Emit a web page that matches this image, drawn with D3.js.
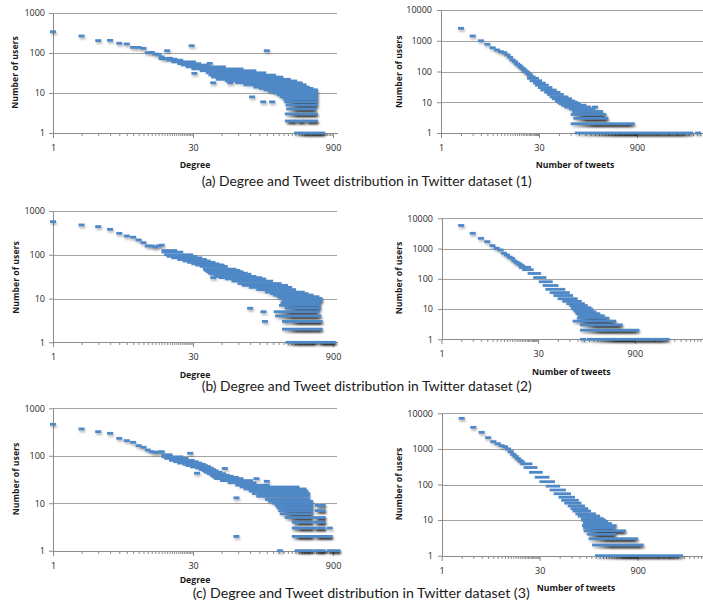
<!DOCTYPE html>
<html>
<head>
<meta charset="utf-8">
<script src="https://cdnjs.cloudflare.com/ajax/libs/d3/7.8.5/d3.min.js"></script>
<style>
body { margin: 0; background: #fff; }
text { font-family: "Open Sans", sans-serif; }
.ttl { font-weight: bold; font-size: 8.7px; fill: #1a1a1a; }
.cap { font-family: Lato, sans-serif; font-size: 13px; fill: #1a1a1a; }
</style>
</head>
<body>
<script>
// tick values
var yTicksDeg = [1, 10, 100, 1000],
    yTicksTwt = [1, 10, 100, 1000, 10000],
    xMajor = [1, 30, 900];

// single markers [x, users] and horizontal runs of markers [users, xFrom, xTo]
// (a) dataset 1
var degPts1 = [[1,340],[2,266],[3,204],[4,207],[5,175],[6,168],[7,138],[8,138],[9,131],[10,102],[11,104],[12,94],[13,93],
  [14,80],[15,72],[16,114],[17,74],[19,70],[29,152],[180,114],[31,31],[49,18],[74,18],[126,8],[165,6],[205,6],[45,55]];
var degRuns1 = [[72,14,17],[66,17,22],[60,19,30],[54,22,34],[50,24,42],[45,27,62],[40,31,95],[36,38,130],[32,44,165],
  [28,47,210],[25,50,250],[22,56,300],[20,70,350],[18,90,400],[16,110,440],[14,140,475],[13,160,520],[12,180,580],[11,200,580],
  [10,225,580],[9,247,580],[8,265,580],[7,285,580],[6,295,580],[5,305,580],[4,310,560],[3,300,580],
  [2,300,340],[2,385,420],[2,470,580],[1,375,690]];
var twtPts1 = [[2,2540],[3,1430],[4,1000],[5,770],[6,590],[7,500],[8,440],[9,410],[10,345],[11,290],[12,236],[13,208],
  [14,175],[15,160],[16,140],[17,125],[18,112],[19,100],[20,92],[21,84],[22,76],[24,66],[210,7],[7500,1]];
var twtRuns1 = [[60,22,27],[50,24,30],[42,27,34],[36,29,38],[30,32,43],[25,35,50],[21,40,57],[18,44,64],[15,48,75],
  [13,52,85],[11,58,95],[10,62,105],[9,66,115],[8,72,140],[7,80,165],[6,95,190],[5,105,250],[4,100,280],[3,110,300],
  [2,100,750],[1,115,5700]];

// (b) dataset 2
var degPts2 = [[1,571],[2,480],[3,440],[4,382],[5,309],[6,268],[7,252],[8,218],[9,189],[10,159],[11,159],[12,150],
  [13,160],[14,166],[51,58],[60,58],[49,30],[120,6],[166,5],[172,3],[280,3]];
var degRuns2 = [[125,15,19],[115,15,22],[100,16,28],[92,17,31],[85,19,35],[78,22,39],[72,25,43],[67,28,48],[62,31,53],
  [58,34,58],[54,38,65],[47,41,80],[44,42,88],[41,44,95],[38,46,105],[36,48,115],[32,53,130],[30,60,150],[28,70,165],
  [25,82,195],[22,95,240],[20,105,280],[18,125,310],[16,150,340],[14,185,420],
  [13,210,460],[12,225,520],[11,247,600],[10,260,650],[9,280,650],[8,270,620],[7,260,620],[6,300,620],[5,229,600],
  [4,237,630],[3,300,650],[2,280,650],[1,305,560],[1,630,900]];
var twtPts2 = [[2,5800],[3,3190],[4,2180],[5,1690],[6,1250],[7,1020],[8,900],[9,700],[10,614],[11,520],[12,476],
  [13,389],[14,350],[15,325],[16,290],[17,266],[146,1]];
var twtRuns2 = [[240,17,21],[200,19,23],[150,23,30],[110,28,36],[80,34,45],[60,39,55],[45,43,70],[35,50,82],[28,57,92],
  [22,66,108],[18,78,125],[15,90,140],[13,100,155],[11,105,175],[10,110,185],[9,115,190],[8,120,210],[7,125,240],
  [6,135,280],[5,130,330],[4,112,420],[3,145,530],[2,145,950],[1,185,2750]];

// (c) dataset 3
var degPts3 = [[1,460],[2,367],[3,322],[4,297],[5,233],[6,208],[7,192],[8,163],[9,151],[10,132],[11,122],[12,118],
  [13,120],[14,122],[28,113],[33,43],[43,59],[65,54],[140,33],[180,29],[86,13],[86,2],[248,1],[830,3],[355,3],[370,4]];
var degRuns3 = [[105,15,17],[95,15,22],[88,16,25],[80,18,29],[75,20,32],[70,22,35],[66,25,38],[62,27,40],[58,30,43],
  [55,34,46],[51,37,49],[48,40,52],[45,42,57],[42,45,62],[39,48,68],[37,50,75],[35,52,85],[33,54,95],[30,62,120],
  [27,75,130],[24,90,180],[22,100,370],[20,110,440],[18,125,460],[16,135,480],
  [14,150,480],[12,185,480],[11,200,516],[10,220,516],[9,235,516],[8,245,516],[7,255,516],[6,265,516],[5,300,516],
  [4,355,516],[3,370,516],[2,355,516],[1,380,516],[9,620,700],[7,620,700],[5,600,700],[4,600,700],[3,580,700],
  [2,580,830],[1,600,700],[1,830,1000]];
var twtPts3 = [[2,7230],[3,4040],[4,2920],[5,2070],[6,1600],[7,1400],[8,1235],[9,1155],[10,995],[11,838],[12,700],
  [13,617],[14,540],[15,480],[16,440]];
var twtRuns3 = [[380,17,21],[300,19,25],[220,23,30],[160,28,38],[120,33,46],[90,41,55],[70,47,67],[55,54,80],[44,64,92],
  [36,70,105],[30,78,115],[25,88,130],[21,97,145],[18,104,160],[15,115,190],[13,125,220],[11,140,250],[10,140,270],
  [9,150,290],[8,150,330],[7,144,390],[6,150,360],[5,153,540],[4,172,380],[3,182,820],[2,205,1000],[1,227,3900]];

var captions = ["(a) Degree and Tweet distribution in Twitter dataset (1)",
                "(b) Degree and Tweet distribution in Twitter dataset (2)",
                "(c) Degree and Tweet distribution in Twitter dataset (3)"];

var xMinor = [];
[1, 30, 900].forEach(function (b) { for (var k = 2; k < 30; k++) xMinor.push(k * b); });

var blue = "#4f88c6", axisCol = "#8c8c8c", gridCol = "#a3a3a3";
var mw = 6, mh = 2.8;

// layout of the six panels
var panels = [
  {pts: degPts1, runs: degRuns1, xMax: 1000,  left: 53,    right: 337.4, gridEnd: 337, yTicks: yTicksDeg, bottom: 133,   top: 13,
   xTitle: "Degree", xtX: 195, xtY: 167.5, ytX: 18, ytY: 72.5, lblPad: 4},
  {pts: twtPts1, runs: twtRuns1, xMax: 27000, left: 441,   right: 735,   gridEnd: 703, yTicks: yTicksTwt, bottom: 133,   top: 10,
   xTitle: "Number of tweets", xtX: 575, xtY: 168, ytX: 401.5, ytY: 71.7, lblPad: 5},
  {pts: degPts2, runs: degRuns2, xMax: 1000,  left: 53,    right: 337.4, gridEnd: 337, yTicks: yTicksDeg, bottom: 342.3, top: 211,
   xTitle: "Degree", xtX: 195, xtY: 377.5, ytX: 18.5, ytY: 277.5, lblPad: 4},
  {pts: twtPts2, runs: twtRuns2, xMax: 27000, left: 441.5, right: 731.5, gridEnd: 703, yTicks: yTicksTwt, bottom: 339.3, top: 218.3,
   xTitle: "Number of tweets", xtX: 571.3, xtY: 375, ytX: 401.5, ytY: 278, lblPad: 5},
  {pts: degPts3, runs: degRuns3, xMax: 1000,  left: 53,    right: 337.4, gridEnd: 337, yTicks: yTicksDeg, bottom: 550.7, top: 408.3,
   xTitle: "Degree", xtX: 195, xtY: 583, ytX: 18.5, ytY: 479, lblPad: 4},
  {pts: twtPts3, runs: twtRuns3, xMax: 27000, left: 441.7, right: 735.7, gridEnd: 703, yTicks: yTicksTwt, bottom: 555.7, top: 413.3,
   xTitle: "Number of tweets", xtX: 576, xtY: 591, ytX: 401.5, ytY: 484, lblPad: 5}
];
var capPos = [[201.7, 186, 330], [201.7, 391, 330], [192.7, 598, 337]];

var svg = d3.select("body").append("svg").attr("width", 703).attr("height", 601);

var defs = svg.append("defs");
defs.append("filter").attr("id", "blur")
    .attr("x", "-10%").attr("y", "-150%").attr("width", "120%").attr("height", "400%")
  .append("feGaussianBlur").attr("stdDeviation", 1);
var grad = defs.append("linearGradient").attr("id", "shade");
[[0, 0.15], [0.35, 1], [0.9, 1], [1, 0.4]].forEach(function (s) {
  grad.append("stop").attr("offset", s[0]).attr("stop-color", "#000").attr("stop-opacity", s[1]);
});

panels.forEach(function (p) {
  var x = d3.scaleLog().domain([1, p.xMax]).range([p.left, p.right]);
  var y = d3.scaleLog().domain([1, p.yTicks[p.yTicks.length - 1]]).range([p.bottom, p.top]);
  var g = svg.append("g");

  // horizontal gridlines
  g.selectAll("line.grid").data(p.yTicks.slice(1)).enter().append("line")
      .attr("x1", p.left).attr("x2", p.gridEnd)
      .attr("y1", function (d) { return Math.round(y(d)) + 0.5; })
      .attr("y2", function (d) { return Math.round(y(d)) + 0.5; })
      .attr("stroke", gridCol).attr("stroke-width", 1);

  // y axis
  var ya = g.append("g").attr("transform", "translate(" + Math.round(p.left) + ",0)")
      .call(d3.axisLeft(y).tickValues(p.yTicks).tickFormat(d3.format("d"))
              .tickSize(4).tickSizeOuter(0).tickPadding(p.lblPad));
  // x axis, minor ticks then major
  var xm = g.append("g").attr("transform", "translate(0," + Math.round(p.bottom) + ")")
      .call(d3.axisBottom(x).tickValues(xMinor.filter(function (v) { return v < p.xMax; }))
              .tickFormat("").tickSize(3).tickSizeOuter(0));
  var xa = g.append("g").attr("transform", "translate(0," + Math.round(p.bottom) + ")")
      .call(d3.axisBottom(x).tickValues(xMajor).tickFormat(d3.format("d"))
              .tickSize(5).tickSizeOuter(0).tickPadding(7));
  [ya, xm, xa].forEach(function (a) {
    a.attr("font-family", "Open Sans, sans-serif").attr("font-size", 9);
    a.select(".domain").attr("stroke", axisCol);
    a.selectAll(".tick line").attr("stroke", axisCol);
    a.selectAll(".tick text").attr("fill", "#262626");
  });

  // shadows first; a run's shadow darkens with how many markers pile up in it
  var sh = g.append("g").attr("filter", "url(#blur)");
  sh.selectAll("rect.rs").data(p.runs).enter().append("rect")
      .attr("x", function (d) { return x(d[1]) - mw / 2 + 1; })
      .attr("y", function (d) { return y(d[0]) - mh / 2 + 2; })
      .attr("width", function (d) { return x(d[2]) - x(d[1]) + mw; })
      .attr("height", mh)
      .attr("fill", "url(#shade)")
      .attr("fill-opacity", function (d) {
        var w = x(d[2]) - x(d[1]) + mw, ov = (d[2] - d[1] + 1) * mw / w / d[0];
        return Math.min(0.92, 1 - Math.pow(0.8, ov));
      });
  sh.selectAll("rect.ps").data(p.pts).enter().append("rect")
      .attr("x", function (d) { return x(d[0]) - mw / 2 + 1; })
      .attr("y", function (d) { return y(d[1]) - mh / 2 + 2; })
      .attr("width", mw).attr("height", mh)
      .attr("fill", "#000").attr("fill-opacity", 0.28);

  // markers
  g.selectAll("rect.run").data(p.runs).enter().append("rect")
      .attr("x", function (d) { return x(d[1]) - mw / 2; })
      .attr("y", function (d) { return y(d[0]) - mh / 2; })
      .attr("width", function (d) { return x(d[2]) - x(d[1]) + mw; })
      .attr("height", mh).attr("fill", blue);
  g.selectAll("rect.pt").data(p.pts).enter().append("rect")
      .attr("x", function (d) { return x(d[0]) - mw / 2; })
      .attr("y", function (d) { return y(d[1]) - mh / 2; })
      .attr("width", mw).attr("height", mh).attr("fill", blue);

  // axis titles
  g.append("text").attr("class", "ttl").attr("x", p.xtX).attr("y", p.xtY)
      .attr("text-anchor", "middle").text(p.xTitle);
  g.append("text").attr("class", "ttl")
      .attr("transform", "translate(" + p.ytX + "," + p.ytY + ") rotate(-90)")
      .attr("text-anchor", "middle").text("Number of users");
});

svg.selectAll("text.cap").data(captions).enter().append("text")
    .attr("class", "cap")
    .attr("x", function (d, i) { return capPos[i][0]; })
    .attr("y", function (d, i) { return capPos[i][1]; })
    .attr("textLength", function (d, i) { return capPos[i][2]; })
    .attr("lengthAdjust", "spacingAndGlyphs")
    .text(function (d) { return d; });
</script>
</body>
</html>
